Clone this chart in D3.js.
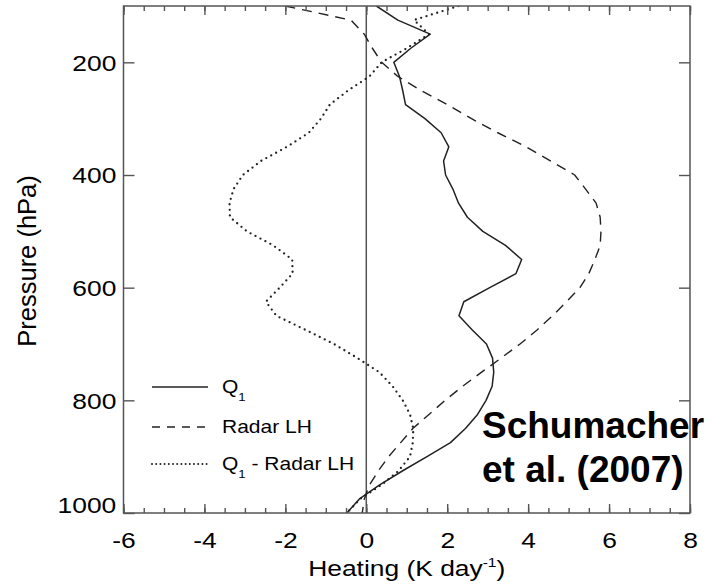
<!DOCTYPE html>
<html>
<head>
<meta charset="utf-8">
<script src="https://cdn.jsdelivr.net/npm/d3@7"></script>
<style>
  html, body { margin: 0; padding: 0; background: #fff; }
  svg { display: block; }
  text { font-family: "Liberation Sans", Arial, Helvetica, sans-serif; fill: #000; }
</style>
</head>
<body>
<svg id="chart" width="712" height="584"></svg>
<script>
// ---- data ----
const pressure = [100,125,150,175,200,225,250,275,300,325,350,375,400,425,450,475,500,525,550,575,600,625,650,675,700,725,750,775,800,825,850,875,900,925,950,975,1000];
const q1 = [0.25,0.78,1.58,1.10,0.68,0.82,0.90,0.97,1.45,1.85,2.04,1.91,1.96,2.14,2.28,2.50,2.88,3.44,3.84,3.70,3.05,2.41,2.29,2.62,2.97,3.12,3.15,3.11,2.96,2.75,2.45,2.08,1.50,0.90,0.33,-0.17,-0.48];
const radarLH = [-2.00,-0.38,-0.05,0.15,0.38,0.78,1.35,2.00,2.60,3.25,3.95,4.55,5.15,5.42,5.68,5.78,5.80,5.78,5.65,5.50,5.28,4.95,4.60,4.22,3.80,3.33,2.85,2.38,1.95,1.55,1.15,0.85,0.55,0.30,0.08,-0.05,-0.10];
const q1MinusLH = [2.28,1.18,1.55,1.00,0.38,0.08,-0.45,-0.90,-1.12,-1.42,-1.96,-2.60,-3.05,-3.28,-3.38,-3.37,-2.95,-2.30,-1.83,-1.82,-2.14,-2.48,-2.22,-1.50,-0.80,-0.22,0.32,0.65,0.90,1.08,1.16,1.15,1.08,0.80,0.38,-0.15,-0.48];
const xMajorTicks = [-6,-4,-2,0,2,4,6,8];
const xMinorTicks = d3.range(-6, 8.01, 0.5);
const yTicks = [200,400,600,800,1000];
const seriesNames = ["Q1", "Radar LH", "Q1 - Radar LH"];

// ---- layout ----
const svg = d3.select("#chart");
const L = 123.5, R = 690, T = 6, B = 513;
const x = d3.scaleLinear().domain([-6, 8]).range([L, R]);
const y = d3.scaleLinear().domain([100, 1000]).range([T, B]);
const ink = "#222", frame = "#555";
const SX = 1.2; // horizontal stretch of the original figure's text

svg.append("defs").append("clipPath").attr("id", "clip")
  .append("rect").attr("x", L).attr("y", T).attr("width", R - L).attr("height", B - T);

const plot = svg.append("g");

// zero line
plot.append("line")
  .attr("x1", x(0)).attr("x2", x(0)).attr("y1", T).attr("y2", B)
  .attr("stroke", frame).attr("stroke-width", 1.5);

// lines
const line = (vals) => d3.line().x((d, i) => x(vals[i])).y(d => y(d))(pressure);
const styles = [
  { vals: q1, dash: null, width: 1.5, cap: "butt" },
  { vals: radarLH, dash: "10,7", width: 1.4, cap: "butt" },
  { vals: q1MinusLH, dash: "0,5.6", width: 2.3, cap: "round" }
];
styles.forEach(s => {
  plot.append("path")
    .attr("d", line(s.vals))
    .attr("clip-path", "url(#clip)")
    .attr("fill", "none")
    .attr("stroke", ink)
    .attr("stroke-width", s.width)
    .attr("stroke-linecap", s.cap)
    .attr("stroke-linejoin", "round")
    .attr("stroke-dasharray", s.dash);
});

// axes
function styleAxis(g) {
  g.select(".domain").remove();
  g.selectAll(".tick line").attr("stroke", frame).attr("stroke-width", 1.4);
}
svg.append("g").attr("transform", `translate(0,${B})`)
  .call(d3.axisBottom(x).tickValues(xMinorTicks).tickSizeInner(-5).tickSizeOuter(0).tickFormat(""))
  .call(styleAxis);
svg.append("g").attr("transform", `translate(0,${T})`)
  .call(d3.axisTop(x).tickValues(xMinorTicks).tickSizeInner(-5).tickSizeOuter(0).tickFormat(""))
  .call(styleAxis);
svg.append("g").attr("transform", `translate(0,${T})`)
  .call(d3.axisTop(x).tickValues(xMajorTicks).tickSizeInner(-9).tickSizeOuter(0).tickFormat(""))
  .call(styleAxis);
const xb = svg.append("g").attr("transform", `translate(0,${B})`)
  .call(d3.axisBottom(x).tickValues(xMajorTicks).tickSizeInner(-9).tickSizeOuter(0)
    .tickFormat(d => d < 0 ? "-" + Math.abs(d) : String(d)))
  .call(styleAxis);
xb.selectAll(".tick text")
  .attr("y", 35).attr("dy", 0)
  .attr("font-size", 22).attr("fill", "#000")
  .attr("transform", `scale(${SX},1)`);

const yl = svg.append("g").attr("transform", `translate(${L},0)`)
  .call(d3.axisLeft(y).tickValues(yTicks).tickSizeInner(-11).tickSizeOuter(0).tickPadding(6)
    .tickFormat(d => String(d)))
  .call(styleAxis);
yl.selectAll(".tick text")
  .attr("font-size", 22).attr("fill", "#000")
  .attr("dy", d => d === 1000 ? "-0.04em" : "0.36em")
  .attr("transform", `scale(${SX},1)`);
svg.append("g").attr("transform", `translate(${R},0)`)
  .call(d3.axisRight(y).tickValues(yTicks).tickSizeInner(-11).tickSizeOuter(0).tickFormat(""))
  .call(styleAxis);

// frame
svg.append("rect").attr("x", L).attr("y", T).attr("width", R - L).attr("height", B - T)
  .attr("fill", "none").attr("stroke", frame).attr("stroke-width", 1.5);

// axis titles
const xt = svg.append("text")
  .attr("transform", `translate(${(L + R) / 2},576) scale(${SX},1)`)
  .attr("text-anchor", "middle").attr("font-size", 22);
xt.append("tspan").text("Heating (K day");
xt.append("tspan").attr("font-size", 13).attr("dy", -9).text("-1");
xt.append("tspan").attr("dy", 9).text(")");

svg.append("text")
  .attr("transform", "translate(36,261) rotate(-90)")
  .attr("text-anchor", "middle").attr("font-size", 25.5)
  .text("Pressure (hPa)");

// legend
const legRows = [387, 427, 464];
const legend = svg.append("g");
styles.forEach((s, i) => {
  legend.append("line")
    .attr("x1", 152).attr("x2", 208).attr("y1", legRows[i]).attr("y2", legRows[i])
    .attr("stroke", ink).attr("stroke-width", i === 2 ? 2 : 1.4)
    .attr("stroke-linecap", s.cap)
    .attr("stroke-dasharray", i === 1 ? "8,7" : (i === 2 ? "0,4.2" : null));
  const t = legend.append("text")
    .attr("transform", `translate(222,${legRows[i] + 6}) scale(${SX},1)`)
    .attr("font-size", 17.5);
  const name = seriesNames[i];
  if (name.startsWith("Q1")) {
    t.append("tspan").text("Q");
    t.append("tspan").attr("font-size", 11).attr("dy", 8).text("1");
    if (name.length > 2) t.append("tspan").attr("dy", -8).text(name.slice(2));
  } else {
    t.text(name);
  }
});

// annotation
const ann = svg.append("text").attr("font-size", 37).attr("font-weight", "bold");
ann.append("tspan").attr("x", 482).attr("y", 438).text("Schumacher");
ann.append("tspan").attr("x", 482).attr("y", 482).text("et al. (2007)");
</script>
</body>
</html>
